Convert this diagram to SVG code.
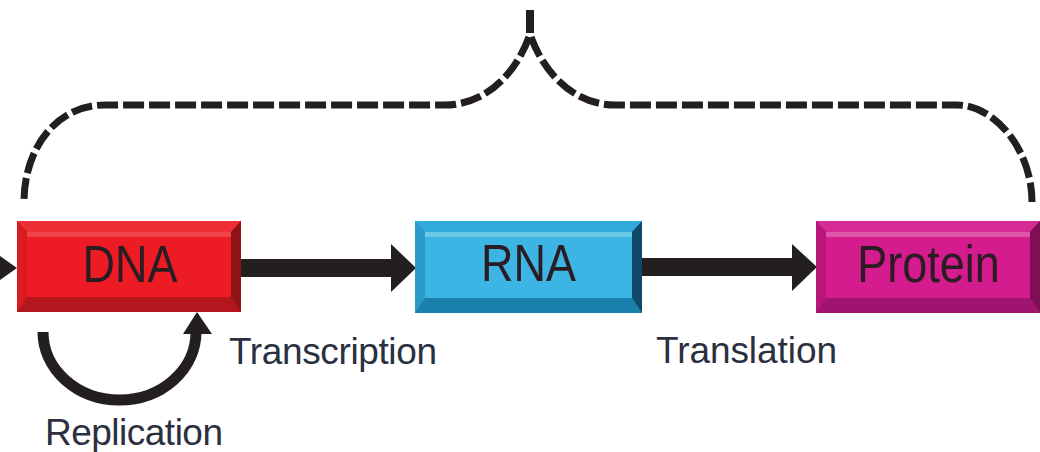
<svg xmlns="http://www.w3.org/2000/svg" width="1040" height="452" viewBox="0 0 1040 452">
<style>
.lbl{font-family:"Liberation Sans",Arial,sans-serif;font-size:37px;fill:#2b3040}
.nl{font-family:"Liberation Sans",Arial,sans-serif;font-size:45px;fill:#2a1c22;text-anchor:middle}
.brace{fill:none;stroke:#231f20;stroke-width:7;stroke-dasharray:21 5}
.ink{fill:#231f20}
.dna .o{fill:#b3161c}.dna .t{fill:#ee2f35}.dna .l{fill:#d91c22}.dna .r{fill:#8e1216}.dna .b{fill:#b3161c}.dna .f{fill:#ed1c24}.dna .h{fill:#f04448}
.rna .o{fill:#1a8fc0}.rna .t{fill:#2faadb}.rna .l{fill:#2a9bc8}.rna .r{fill:#0e4a66}.rna .b{fill:#1c80ac}.rna .f{fill:#3cb5e5}.rna .h{fill:#6acbe8}
.pro .o{fill:#a01470}.pro .t{fill:#d62a94}.pro .l{fill:#b81679}.pro .r{fill:#7e0f55}.pro .b{fill:#a01470}.pro .f{fill:#d41c8e}.pro .h{fill:#de56a8}
</style>
<g id="connectors">
  <path class="brace" d="M529 37 C514 78 482 105 445 105 L105 105 C55 105 24 150 24 202"/>
  <path class="brace" d="M531 37 C546 78 578 105 615 105 L957 105 C995 105 1032 150 1032 202"/>
  <path d="M530 10 L530 33" fill="none" stroke="#231f20" stroke-width="8"/>
  <polygon class="ink" points="0,256 17,268 0,280"/>
  <rect class="ink" x="241" y="259" width="151" height="18"/>
  <polygon class="ink" points="391,244 416,268 391,292"/>
  <rect class="ink" x="642" y="258" width="151" height="18"/>
  <polygon class="ink" points="792,244 817,267 792,291"/>
  <path d="M43 332 A76.5 68 0 0 0 196 332" fill="none" stroke="#231f20" stroke-width="11"/>
  <polygon class="ink" points="183,334 197,312 212,334"/>
</g>
<g id="node-dna" class="dna">
  <rect class="o" x="17" y="221" width="224" height="91"/>
  <polygon class="t" points="17,221 241,221 231,232 27,232"/>
  <polygon class="l" points="17,221 27,232 27,297 17,312"/>
  <polygon class="r" points="241,221 231,232 231,297 241,312"/>
  <polygon class="b" points="17,312 27,297 231,297 241,312"/>
  <rect class="f" x="27" y="232" width="204" height="65"/>
  <rect class="h" x="27" y="232" width="204" height="5"/>
  <text class="nl" transform="translate(130 282) scale(1 1.15)">DNA</text>
</g>
<g id="node-rna" class="rna">
  <rect class="o" x="415" y="221" width="227" height="92"/>
  <polygon class="t" points="415,221 642,221 632,232 425,232"/>
  <polygon class="l" points="415,221 425,232 425,298 415,313"/>
  <polygon class="r" points="642,221 632,232 632,298 642,313"/>
  <polygon class="b" points="415,313 425,298 632,298 642,313"/>
  <rect class="f" x="425" y="232" width="207" height="66"/>
  <rect class="h" x="425" y="232" width="207" height="5"/>
  <text class="nl" transform="translate(528.5 281) scale(1 1.15)">RNA</text>
</g>
<g id="node-protein" class="pro">
  <rect class="o" x="816" y="221" width="224" height="92"/>
  <polygon class="t" points="816,221 1040,221 1030,232 826,232"/>
  <polygon class="l" points="816,221 826,232 826,298 816,313"/>
  <polygon class="r" points="1040,221 1030,232 1030,298 1040,313"/>
  <polygon class="b" points="816,313 826,298 1030,298 1040,313"/>
  <rect class="f" x="826" y="232" width="204" height="66"/>
  <rect class="h" x="826" y="232" width="204" height="5"/>
  <text class="nl" transform="translate(928.5 282) scale(1 1.15)">Protein</text>
</g>
<g id="labels">
  <text class="lbl" x="229" y="364" textLength="208">Transcription</text>
  <text class="lbl" x="656" y="363" textLength="181">Translation</text>
  <text class="lbl" x="45" y="445" textLength="178">Replication</text>
</g>
</svg>
